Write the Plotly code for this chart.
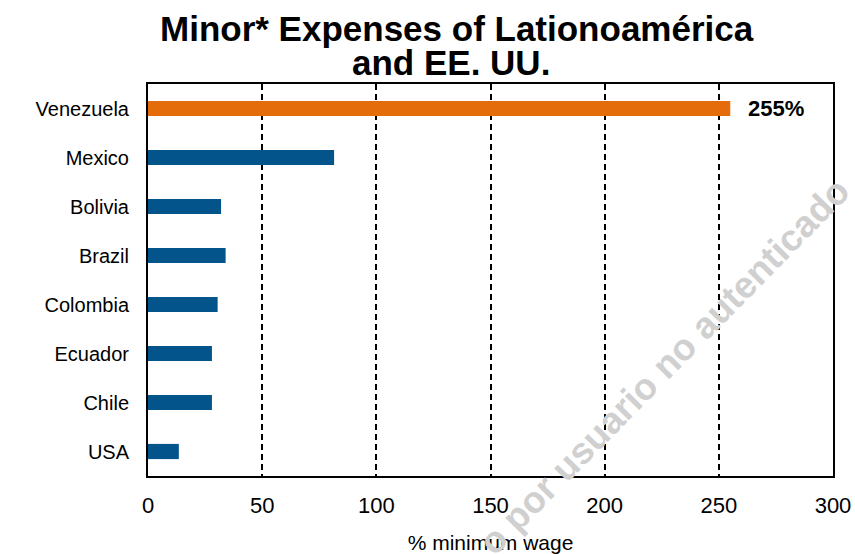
import plotly.graph_objects as go

countries = ["Venezuela", "Mexico", "Bolivia", "Brazil", "Colombia", "Ecuador", "Chile", "USA"]
values = [255, 81.5, 32, 34, 30.5, 28, 28, 13.5]
bar_colors = ["#E46C0A", "#02548A", "#02548A", "#02548A", "#02548A", "#02548A", "#02548A", "#02548A"]
x_ticks = [0, 50, 100, 150, 200, 250, 300]
highlight_label = "255%"

FONT = "Liberation Sans, Arial, sans-serif"

fig = go.Figure()
fig.add_trace(go.Bar(
    y=countries, x=values, orientation="h",
    marker=dict(color=bar_colors, line=dict(width=0)),
    width=0.31, hoverinfo="skip",
))

W, H = 855, 554
L, R, T, B = 148, 22, 84, 78
ph = H - T - B

def py(pix):
    return (H - B - pix) / ph

def px(pix):
    return (pix - L) / (W - L - R)

fig.update_layout(
    width=W, height=H,
    margin=dict(l=L, r=R, t=T, b=B, autoexpand=False),
    paper_bgcolor="white", plot_bgcolor="white",
    showlegend=False,
    font=dict(family=FONT, color="black"),
    xaxis=dict(
        range=[0, 300], tickvals=x_ticks, ticktext=[str(v) for v in x_ticks],
        showgrid=True, gridcolor="black", gridwidth=1.5, griddash="6px,4px",
        showline=True, linecolor="black", linewidth=2, mirror=True,
        ticks="", tickfont=dict(size=22, family=FONT), ticklabelstandoff=9,
        zeroline=False, automargin=False,
        title=dict(text="% minimum wage", font=dict(size=21, family=FONT), standoff=20),
    ),
    yaxis=dict(
        categoryorder="array", categoryarray=countries, autorange="reversed",
        showline=True, linecolor="black", linewidth=2, mirror=True,
        showgrid=False, ticks="", tickfont=dict(size=20, family=FONT),
        ticklabelstandoff=13, automargin=False,
    ),
    annotations=[
        dict(text="<b>Minor* Expenses of Lationoamérica</b>", xref="paper", yref="paper",
             x=px(457), y=py(28), xanchor="center", yanchor="middle",
             showarrow=False, font=dict(size=35, family=FONT, color="black")),
        dict(text="<b>and EE. UU.</b>", xref="paper", yref="paper",
             x=px(451), y=py(63), xanchor="center", yanchor="middle",
             showarrow=False, font=dict(size=35, family=FONT, color="black")),
        dict(text="<b>" + highlight_label + "</b>", xref="x", yref="y",
             x=values[0], y=countries[0], xanchor="left", yanchor="middle", xshift=16,
             showarrow=False, font=dict(size=22, family=FONT, color="black")),
        dict(text="<b>o por usuario no autenticado</b>", xref="paper", yref="paper",
             x=px(664), y=py(366), xanchor="center", yanchor="middle",
             textangle=-45.5, showarrow=False,
             font=dict(size=37, family=FONT, color="#D0D0D0")),
    ],
)

fig.write_html(
    "out.html",
    config={"displayModeBar": False},
    post_script="document.body.style.margin='0';document.body.style.padding='0';"
                "document.documentElement.style.overflow='hidden';",
)
